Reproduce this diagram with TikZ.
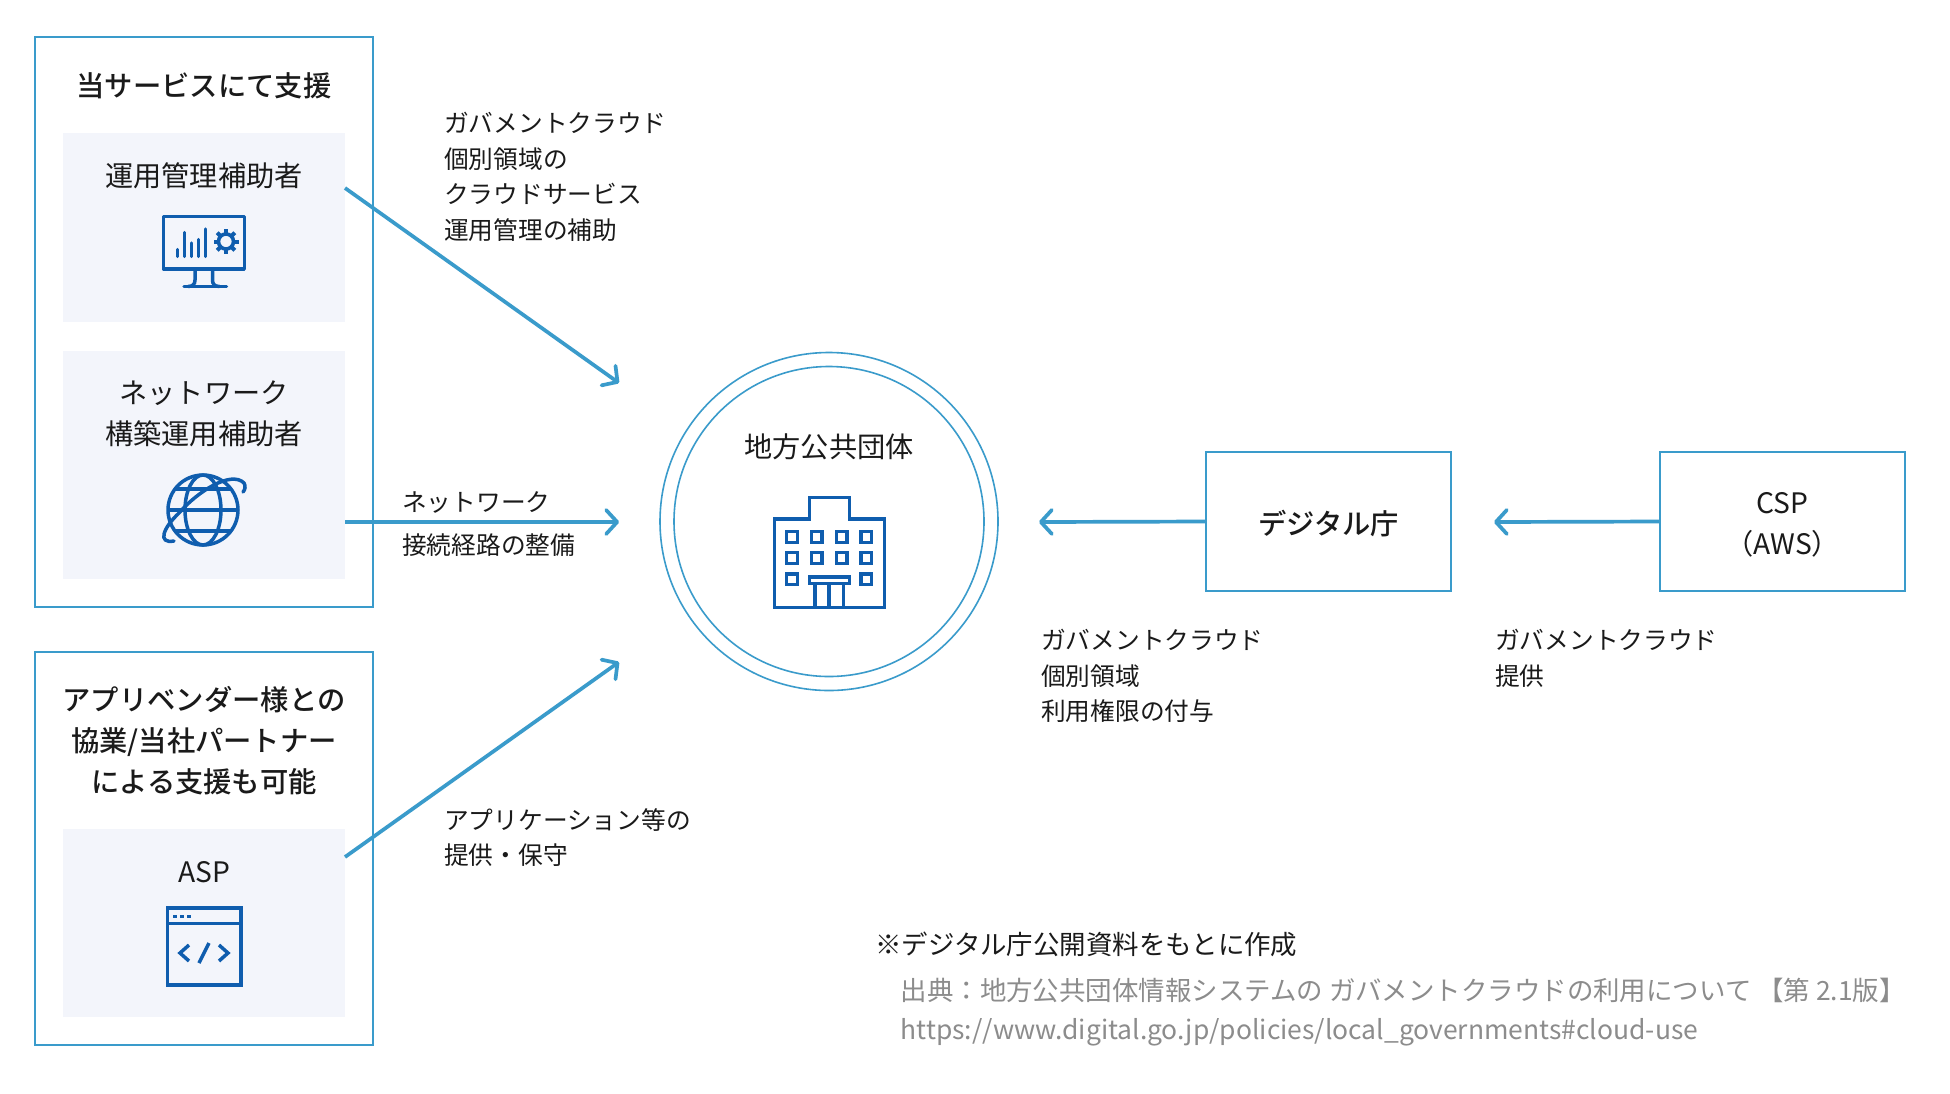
\documentclass[tikz,border=0pt]{standalone}
\usepackage{fontspec}
\setmainfont{Noto Sans CJK JP}
\newfontfamily\medfont{Noto Sans CJK JP Medium}
\usetikzlibrary{arrows.meta}
\definecolor{linkblue}{HTML}{3A9BCB}
\definecolor{iconblue}{HTML}{0F5DAE}
\definecolor{panelbg}{HTML}{F3F5FB}
\definecolor{greytext}{HTML}{8C8C8C}
\definecolor{inktext}{HTML}{1A1A1A}
\tikzset{
 frame/.style={draw=linkblue,line width=1.6pt,fill=white,inner sep=0pt,outer sep=0pt,anchor=north west},
 panel/.style={fill=panelbg,inner sep=0pt,outer sep=0pt,anchor=north west},
 flow/.style={draw=linkblue,line width=3.7pt,-{Straight Barb[length=11pt,width=24pt,line width=3.7pt,round]}},
 ring/.style={circle,draw=linkblue,line width=1.6pt,inner sep=0pt,outer sep=0pt},
 boxed/.style={draw=linkblue,line width=1.6pt,minimum width=245pt,minimum height=139pt,inner sep=0pt,outer sep=0pt},
 title/.style={font=\medfont\fontsize{28.3}{41}\selectfont,text=inktext,align=center,inner sep=0pt},
 plain/.style={font=\fontsize{28.2}{41}\selectfont,text=inktext,align=center,inner sep=0pt},
 note/.style={font=\fontsize{24.7}{35.5}\selectfont,text=inktext,align=left,anchor=north west,inner sep=0pt},
 foot/.style={font=\fontsize{26.45}{39}\selectfont,anchor=west,inner sep=0pt},
 icon/.style={draw=iconblue,line width=3.5pt,fill=none},
}
\begin{document}
\begin{tikzpicture}[x=1pt,y=-1pt]
\useasboundingbox (0,0) rectangle (1950,1093);
\fill[white] (0,0) rectangle (1950,1093);
% frames and panels
\node[frame,minimum width=338pt,minimum height=570pt] (box1) at (35,37) {};
\node[frame,minimum width=338pt,minimum height=393pt] (box2) at (35,652) {};
\node[panel,minimum width=282pt,minimum height=189pt] (p1) at (63,133) {};
\node[panel,minimum width=282pt,minimum height=228pt] (p2) at (63,351) {};
\node[panel,minimum width=282pt,minimum height=188pt] (p3) at (63,829) {};
\node[ring,minimum size=338pt] (outer) at (829,521.5) {};
\node[ring,minimum size=310pt] (inner) at (829,521.5) {};
\node[boxed] (digi) at (1328.5,521.5) {};
\node[boxed] (csp) at (1782.5,521.5) {};
% titles
\node[title] (t1) at (204,86) {当サービスにて支援};
\node[plain] (t2) at (204,176) {運用管理補助者};
\node[plain] (t3) at (204,414) {ネットワーク\\構築運用補助者};
\node[title] (t4) at (204,741) {アプリベンダー様との\\協業/当社パートナー\\による支援も可能};
\node[plain] (t5) at (204,872) {ASP};
\node[plain] (t6) at (829,447) {地方公共団体};
\node[title] (t7) at (1328.5,523.5) {デジタル庁};
\node[plain] (t8) at (1782.5,524.5) {CSP\\（AWS）};
% notes
\node[note] (n1) at (444,112) {ガバメントクラウド\\個別領域の\\クラウドサービス\\運用管理の補助};
\node[note] (n2) at (402,491.5) {ネットワーク};
\node[note] (n3) at (402,534) {接続経路の整備};
\node[note] (n4) at (444,808) {アプリケーション等の\\提供・保守};
\node[note] (n5) at (1041,629) {ガバメントクラウド\\個別領域\\利用権限の付与};
\node[note] (n6) at (1495,629) {ガバメントクラウド\\提供};
% footer
\node[foot,text=inktext] (f1) at (875,944) {※デジタル庁公開資料をもとに作成};
\node[foot,text=greytext] (f2) at (900.5,990) {出典：地方公共団体情報システムの ガバメントクラウドの利用について 【第 2.1版】};
\node[foot,text=greytext] (f3) at (900.5,1032) {https://www.digital.go.jp/policies/local\_governments\#cloud-use};
% connectors
\coordinate (a1s) at (345,188); \coordinate (a1e) at (619,383);
\coordinate (a2s) at (345,522); \coordinate (a2e) at (619,522);
\coordinate (a3s) at (345,857); \coordinate (a3e) at (619,662);
\coordinate (a4e) at (1039,522); \coordinate (a5e) at (1494,522);
\draw[flow] (a1s) -- (a1e);
\draw[flow] (a2s) -- (a2e);
\draw[flow] (a3s) -- (a3e);
\draw[flow] (digi.west) -- (a4e);
\draw[flow] (csp.west) -- (a5e);
% monitor icon
\draw[icon,line join=round] (163.5,216.5) rectangle (244.3,269);
\draw[icon] (195,269) -- (195,280) .. controls (195,284) and (193,286.5) .. (188,286.5);
\draw[icon] (212.5,269) -- (212.5,280) .. controls (212.5,284) and (214.5,286.5) .. (219.5,286.5);
\draw[icon,line cap=round] (184,286.7) -- (226.5,286.7);
\draw[iconblue,line width=3.3pt,line cap=round] (177.3,256.5) -- (177.3,249.5) (184.3,256.5) -- (184.3,232.5) (191.7,256.5) -- (191.7,243) (198.7,256.5) -- (198.7,239.5) (205.7,256.5) -- (205.7,229);
\draw[iconblue,line width=3.6pt] (226,241.5) circle (7.5);
\foreach \a in {0,45,...,315} \draw[iconblue,line width=4pt] (226,241.5) ++(\a:8) -- ++(\a:4.5);
% globe icon
\begin{scope}[shift={(203,510)}]
\draw[icon] (0,0) circle (35);
\draw[icon] (0,0) ellipse (18 and 35);
\draw[icon] (-35,0) -- (35,0) (-29,-21) -- (29,-21) (-29,21) -- (29,21);
\draw[icon,line cap=round] (-29,31) .. controls (-46,34) and (-40,18) .. (-24,3) .. controls (-6,-18) and (28,-40) .. (41,-27) .. controls (43,-24) and (42,-20) .. (40,-18);
\end{scope}
% building icon
\begin{scope}[shift={(650,340)},x=0.3333pt,y=-0.3333pt]
\draw[icon] (373,802) -- (373,537) -- (478,537) -- (478,473) -- (598,473) -- (598,537) -- (703,537) -- (703,802) -- cycle;
\foreach \cx in {426,500,575,649} \foreach \cy in {591,654} \draw[icon] (\cx-16,\cy-16) rectangle (\cx+16,\cy+16);
\foreach \cx in {426,649} \draw[icon] (\cx-16,702) rectangle (\cx+16,734);
\draw[icon] (478,711) rectangle (598,731);
\draw[icon] (495,731) -- (495,802) (537,731) -- (537,802) (580,731) -- (580,802);
\end{scope}
% window icon
\draw[icon] (167.5,908) rectangle (241,985);
\draw[icon] (167.5,923.5) -- (241,923.5);
\foreach \dx in {175,182,189} \fill[iconblue] (\dx-1.8,914.5) rectangle (\dx+1.8,918);
\draw[icon] (189,945) -- (180,953) -- (189,961);
\draw[icon] (219,945) -- (228,953) -- (219,961);
\draw[icon] (209,943) -- (199,963);
\end{tikzpicture}
\end{document}
